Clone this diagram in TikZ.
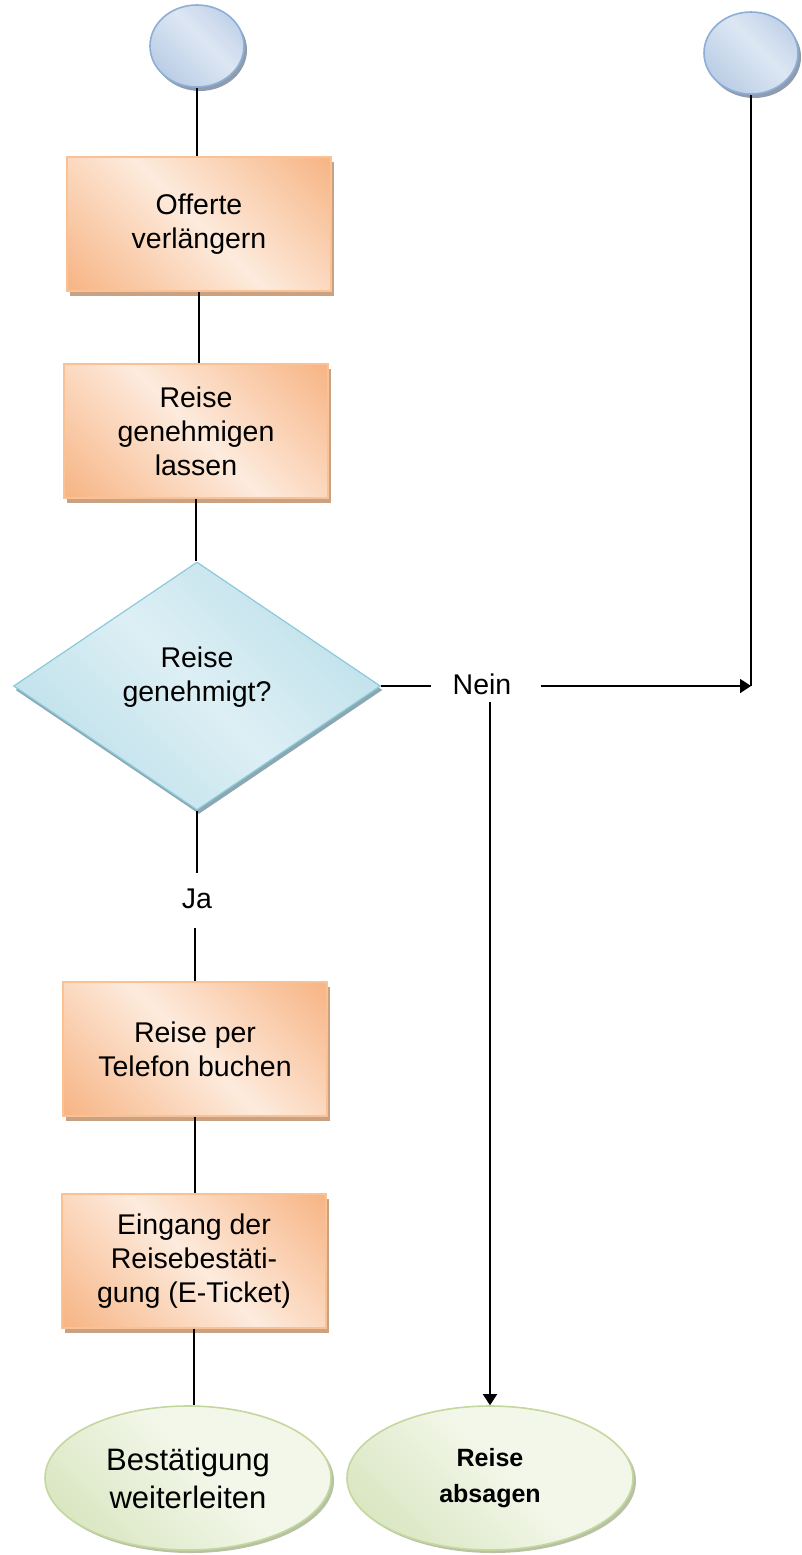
\documentclass[tikz,border=0pt]{standalone}
\usepackage{fontspec}
\setmainfont{Liberation Sans}
\usetikzlibrary{shapes.geometric,shadows,arrows.meta,calc}

% process boxes (orange)
\definecolor{oDark}{HTML}{F7B687}
\definecolor{oLight}{HTML}{FDEBDD}
\definecolor{oLine}{HTML}{F9C194}
\definecolor{oShadow}{HTML}{C9A183}
% decision (blue-green)
\definecolor{dDark}{HTML}{B3DBE6}
\definecolor{dLight}{HTML}{DDEFF5}
\definecolor{dLine}{HTML}{8CCADA}
\definecolor{dShadow}{HTML}{8BA7B2}
% connectors (blue circles)
\definecolor{cDark}{HTML}{B5C9E3}
\definecolor{cLight}{HTML}{DDE7F3}
\definecolor{cLine}{HTML}{8DAED7}
\definecolor{cShadow}{HTML}{8F9CAD}
% terminals (green)
\definecolor{gDark}{HTML}{D6E3BB}
\definecolor{gLight}{HTML}{F3F7EA}
\definecolor{gLine}{HTML}{C4D79D}
\definecolor{gShadow}{HTML}{B7C1A4}

\pgfdeclareverticalshading{oband}{100bp}{color(0bp)=(oDark); color(16bp)=(oDark); color(50bp)=(oLight); color(84bp)=(oDark); color(100bp)=(oDark)}
\pgfdeclareverticalshading{dband}{100bp}{color(0bp)=(dDark); color(16bp)=(dDark); color(50bp)=(dLight); color(84bp)=(dDark); color(100bp)=(dDark)}
\pgfdeclareverticalshading{cband}{100bp}{color(0bp)=(cDark); color(20bp)=(cDark); color(55bp)=(cLight); color(84bp)=(cDark); color(100bp)=(cDark)}
\pgfdeclareverticalshading{gband}{100bp}{color(0bp)=(gDark); color(18bp)=(gDark); color(55bp)=(gLight); color(86bp)=(gLight); color(100bp)=(gDark)}

\begin{document}
\begin{tikzpicture}[x=1pt,y=-1pt,
  conn/.style={line width=1.8pt, draw=black},
  arr/.style={conn, -{Triangle[length=11pt,width=14pt]}},
  body/.style={font=\fontsize{28.5}{34}\selectfont, align=center, inner sep=0pt},
  lbl/.style={font=\fontsize{28.5}{34}\selectfont, inner sep=0pt},
  stepbox/.style={body, rectangle, minimum width=264pt, minimum height=134pt,
    draw=oLine, line width=1.2pt, shade, shading=oband, shading angle=-45,
    drop shadow={shadow xshift=3pt, shadow yshift=-5pt, fill=oShadow, opacity=1}},
  decide/.style={body, diamond, aspect=1.48, minimum width=367pt, minimum height=248pt,
    draw=dLine, line width=1.2pt, shade, shading=dband, shading angle=-45,
    drop shadow={shadow xshift=2pt, shadow yshift=-4pt, fill=dShadow, opacity=1}},
  startc/.style={ellipse, minimum width=94pt, minimum height=82pt, inner sep=0pt,
    draw=cLine, line width=1.6pt, shade, shading=cband, shading angle=-45,
    drop shadow={shadow xshift=3pt, shadow yshift=-4pt, fill=cShadow, opacity=1}},
  endc/.style={ellipse, minimum width=286pt, minimum height=144pt, inner sep=0pt,
    align=center, font=\fontsize{31}{38}\selectfont,
    draw=gLine, line width=1.6pt, shade, shading=gband, shading angle=-45,
    drop shadow={shadow xshift=3pt, shadow yshift=-3pt, fill=gShadow, opacity=1}},
  endbold/.style={font=\fontsize{25}{36}\selectfont\bfseries}
]
\useasboundingbox (0,0) rectangle (802,1555);

% shapes
\node[startc] (c1) at (197,46) {};
\node[startc] (c2) at (751,53) {};
\node[stepbox] (b1) at (199,224) {Offerte\\verlängern};
\node[stepbox] (b2) at (196,431) {Reise\\genehmigen\\lassen};
\node[decide, text depth=24pt] (d) at (197,686) {Reise\\genehmigt?};
\node[lbl] (nein) at (482,684) {Nein};
\node[lbl] (ja) at (197,899) {Ja};
\node[stepbox] (b3) at (195,1049) {Reise per\\Telefon buchen};
\node[stepbox] (b4) at (194,1261) {Eingang der\\Reisebestäti-\\gung (E-Ticket)};
\node[endc] (e1) at (188,1478) {Bestätigung\\weiterleiten};
\node[endc, endbold] (e2) at (490,1478) {Reise\\absagen};

\coordinate (j) at (c2.south |- d.east);

% connectors
\draw[conn] (c1.south) -- (c1.south |- b1.north);
\draw[conn] (b1.south) -- (b1.south |- b2.north);
\draw[conn] (b2.south) -- (b2.south |- d.north);
\draw[conn] (d.east) -- ($(d.east -| nein.west)+(-21,0)$);
\draw[arr] ($(nein.east |- d.east)+(29,0)$) -- (j);
\draw[conn] (c2.south) -- (j);
\draw[arr] ($(nein.south -| e2.north)+(0,7)$) -- (e2.north);
\draw[conn] (d.south) -- ($(d.south |- ja.north)+(0,-16)$);
\draw[conn] ($(ja.south -| b3.north)+(0,19)$) -- (b3.north);
\draw[conn] (b3.south) -- (b3.south |- b4.north);
\draw[conn] (b4.south) -- (b4.south |- e1.north);
\end{tikzpicture}
\end{document}
